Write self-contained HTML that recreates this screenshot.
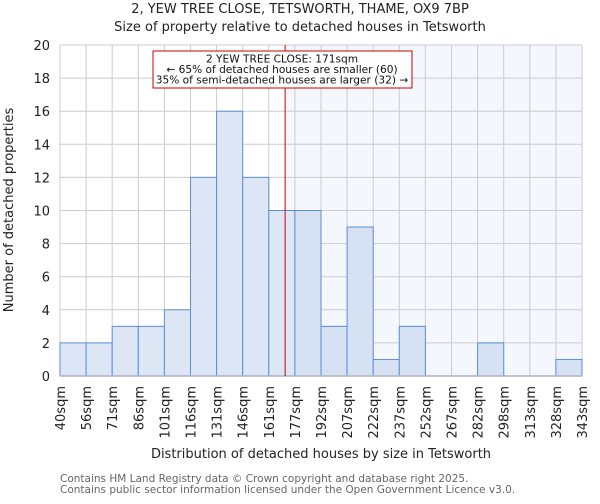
<!DOCTYPE html>
<html><head><meta charset="utf-8"><style>
body{margin:0;background:#fff;font-family:"DejaVu Sans","Liberation Sans",sans-serif}
</style></head><body>
<svg id="chart" width="600" height="500" xmlns="http://www.w3.org/2000/svg" font-family="DejaVu Sans, Liberation Sans, sans-serif">
<text x="300" y="13" text-anchor="middle" font-size="13" fill="#222">2, YEW TREE CLOSE, TETSWORTH, THAME, OX9 7BP</text>
<text x="300" y="31" text-anchor="middle" font-size="13" fill="#222">Size of property relative to detached houses in Tetsworth</text>
<g id="plot"></g>
<text x="321" y="458" text-anchor="middle" font-size="13" fill="#222">Distribution of detached houses by size in Tetsworth</text>
<text transform="translate(13,210) rotate(-90)" text-anchor="middle" font-size="13" fill="#222">Number of detached properties</text>
<text x="60" y="482" font-size="10.5" fill="#666">Contains HM Land Registry data © Crown copyright and database right 2025.</text>
<text x="60" y="493" font-size="10.5" fill="#666">Contains public sector information licensed under the Open Government Licence v3.0.</text>
</svg>
<script>
const categories=["40sqm","56sqm","71sqm","86sqm","101sqm","116sqm","131sqm","146sqm","161sqm","177sqm","192sqm","207sqm","222sqm","237sqm","252sqm","267sqm","282sqm","298sqm","313sqm","328sqm","343sqm"];
const counts=[2,2,3,3,4,12,16,12,10,10,3,9,1,3,0,0,2,0,0,1];
const binEdges=[40,56,71,86,101,116,131,146,161,177,192,207,222,237,252,267,282,298,313,328,343];
const yTicks=[0,2,4,6,8,10,12,14,16,18,20];
const markerValue=171;
const L=60,R=582,T=45,B=376,YMAX=20;
const n=counts.length,bw=(R-L)/n;
const NS="http://www.w3.org/2000/svg";
const g=document.getElementById('plot');
function x(i){return L+i*bw;}
function y(v){return B-v/YMAX*(B-T);}
function xv(v){let i=0;while(i<binEdges.length-2&&v>binEdges[i+1])i++;return x(i)+(v-binEdges[i])/(binEdges[i+1]-binEdges[i])*bw;}
function mk(t,a){const e=document.createElementNS(NS,t);for(const k in a)e.setAttribute(k,a[k]);g.appendChild(e);return e;}
const mx=xv(markerValue);
let e=mk('rect',{x:mx,y:T,width:R-mx,height:B-T,fill:'#f4f7fd'});


for(let i=0;i<=n;i++){e=mk('line',{x1:x(i),x2:x(i),y1:T,y2:B,stroke:'#cccccc','stroke-width':1});

}
yTicks.forEach(t=>{e=mk('line',{x1:L,x2:R,y1:y(t),y2:y(t),stroke:'#cccccc','stroke-width':1});


e=mk('text',{x:L-10,y:y(t)+5,'text-anchor':'end','font-size':13,fill:'#222'});e.textContent=t;

});
counts.forEach((c,i)=>{if(c<=0)return;
e=mk('rect',{x:x(i),y:y(c),width:bw,height:B-y(c),fill:x(i)>=mx?'#d6e1f3':'#dde6f4',stroke:'#5b8fd6','stroke-width':1});

});
categories.forEach((c,i)=>{e=mk('text',{transform:`translate(${x(i)+5},386) rotate(-90)`,'text-anchor':'end','font-size':13,fill:'#222'});e.textContent=c;

});
e=mk('line',{x1:L,x2:R,y1:B,y2:B,stroke:'#aab4c4','stroke-width':1.5});


e=mk('line',{x1:mx,x2:mx,y1:T,y2:B,stroke:'#cc0000','stroke-width':1});


e=mk('rect',{x:153,y:51,width:259,height:37,fill:'#fff',stroke:'#cc0000','stroke-width':1});


["2 YEW TREE CLOSE: 171sqm","← 65% of detached houses are smaller (60)","35% of semi-detached houses are larger (32) →"].forEach((s,k)=>{
e=mk('text',{x:282,y:62.5+k*10.5,'text-anchor':'middle','font-size':10.6,fill:'#111'});e.textContent=s;

});
</script>
</body></html>
